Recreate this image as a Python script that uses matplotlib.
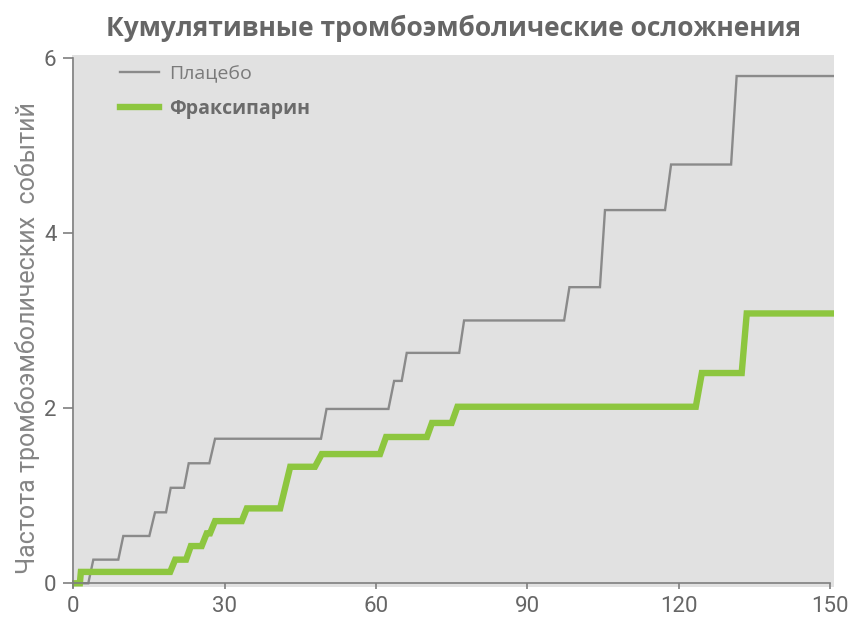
#!/usr/bin/env python3

import matplotlib
matplotlib.use('Agg')
import matplotlib.pyplot as plt

# polyline vertices of the cumulative curves (days, events)
placebo_x = [0, 2.97, 3.97, 8.92, 9.91, 15.07, 16.2, 18.38, 19.31, 21.95, 22.88,
             26.97, 28.1, 49.1, 50.2, 62.47, 63.6, 65.1, 66.1, 76.5, 77.47,
             97.3, 98.35, 104.4, 105.4, 117.3, 118.5, 130.4, 131.5, 151.2]
placebo_y = [0, 0, 0.27, 0.27, 0.54, 0.54, 0.81, 0.81, 1.09, 1.09, 1.37,
             1.37, 1.65, 1.65, 1.99, 1.99, 2.31, 2.31, 2.63, 2.63, 3.0,
             3.0, 3.38, 3.38, 4.26, 4.26, 4.78, 4.78, 5.79, 5.79]

fraxi_x = [0, 1.3, 1.5, 19.2, 20.2, 22.35, 23.3, 25.45, 26.45, 27.1, 28.1,
           33.4, 34.4, 41.0, 43.0, 47.9, 49.25, 60.8, 62.0, 70.1, 71.1,
           75.0, 76.15, 123.4, 124.6, 132.5, 133.5, 150.5]
fraxi_y = [0, 0, 0.13, 0.13, 0.27, 0.27, 0.425, 0.425, 0.57, 0.57, 0.71,
           0.71, 0.855, 0.855, 1.33, 1.33, 1.475, 1.475, 1.67, 1.67, 1.83,
           1.83, 2.015, 2.015, 2.40, 2.40, 3.08, 3.08]

x_ticks = [0, 30, 60, 90, 120, 150]
y_ticks = [0, 2, 4, 6]

series_labels = ['Плацебо', 'Фраксипарин']
title = 'Кумулятивные тромбоэмболические осложнения'
y_label = 'Частота тромбоэмболических  событий'

GRAY_LINE = '#8a8a8a'
GREEN = '#8dc63f'
AXIS = '#7f7f7f'
TEXT = '#666666'


def main():
    figure = plt.figure(figsize=(8.48, 6.18), dpi=100)
    axis = figure.add_axes([0.0849, 0.0502, 0.8986, 0.8608])
    axis.set_facecolor('#e1e1e1')

    axis.plot(placebo_x, placebo_y, color=GRAY_LINE, lw=1.7,
              label=series_labels[0], solid_joinstyle='miter')
    axis.plot(fraxi_x, fraxi_y, color=GREEN, lw=4.6,
              label=series_labels[1], solid_joinstyle='miter')

    axis.set_xlim(-0.26, 150.8)
    axis.set_ylim(-0.042, 6.03)
    axis.set_xticks(x_ticks)
    axis.set_yticks(y_ticks)

    for side in ('top', 'right'):
        axis.spines[side].set_visible(False)
    axis.spines['left'].set_position(('data', 0))
    axis.spines['bottom'].set_position(('data', 0))
    axis.spines['left'].set_bounds(-0.04, 6)
    axis.spines['bottom'].set_bounds(0, 150)
    for side in ('left', 'bottom'):
        axis.spines[side].set_color(AXIS)
        axis.spines[side].set_linewidth(1.2)

    axis.tick_params(axis='y', length=7.2, width=1.2, color=AXIS, pad=5,
                     labelsize=16, labelcolor=TEXT)
    axis.tick_params(axis='x', length=4.3, width=1.2, color=AXIS, pad=5,
                     labelsize=16, labelcolor=TEXT)
    for lbl in axis.get_xticklabels() + axis.get_yticklabels():
        lbl.set_family(['Roboto', 'DejaVu Sans'])

    axis.set_title(title, fontsize=19, fontweight='bold', color=TEXT,
                   family=['Open Sans', 'DejaVu Sans'], pad=14)
    figure.text(0.032, 1 - 338 / 618, y_label, rotation=90, ha='center', va='center',
                fontsize=18, color='#858585', family=['Roboto', 'DejaVu Sans'])

    legend = axis.legend(loc='upper left', frameon=False,
                         bbox_to_anchor=(0.04, 1.014), handlelength=2.0,
                         handletextpad=0.55, labelspacing=0.8,
                         prop={'family': ['Open Sans', 'DejaVu Sans'], 'size': 14})
    texts = legend.get_texts()
    texts[0].set_color('#7a7a7a')
    texts[1].set_color('#6b6b6b')
    texts[1].set_fontweight('bold')

    figure.savefig('out.png', dpi=100)
    return 0


if __name__ == '__main__':
    main()
